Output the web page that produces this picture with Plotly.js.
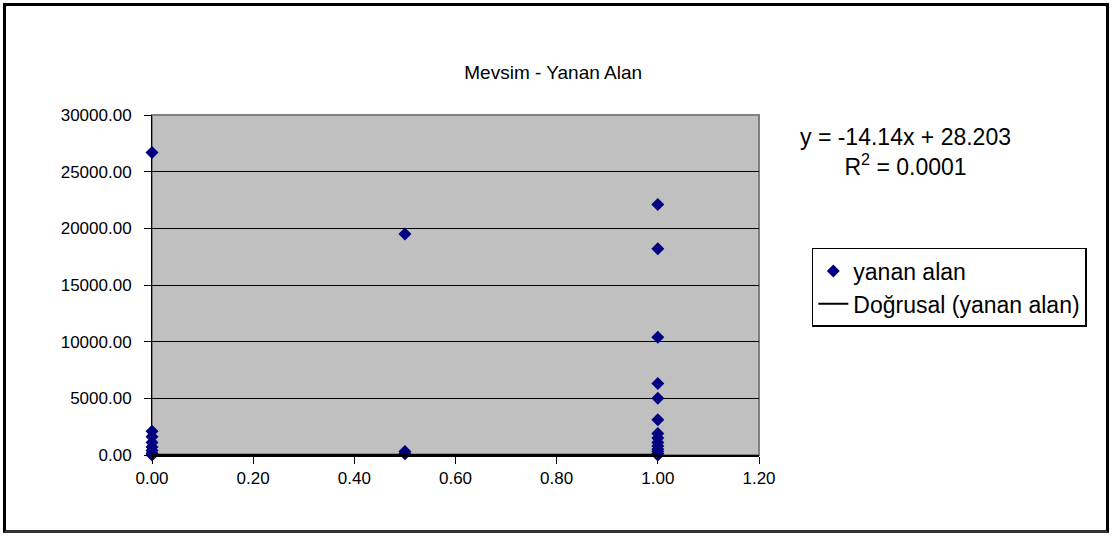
<!DOCTYPE html>
<html>
<head>
<meta charset="utf-8">
<script src="https://cdn.plot.ly/plotly-3.0.1.min.js"></script>
<style>
  html, body { margin: 0; padding: 0; background: #fff; }
  #wrap { position: relative; width: 1113px; height: 536px; }
  #chart { position: absolute; left: 0; top: 0; width: 1113px; height: 536px; }
  #frame { position: absolute; left: 3px; top: 3px; width: 1100px; height: 524px;
           border: 3px solid #000; border-bottom-color: #333; pointer-events: none; }
</style>
</head>
<body>
<div id="wrap"><div id="chart"></div><div id="frame"></div></div>
<script>
// Season (0, 0.5, 1) vs burned area
const seasonX = [0, 0, 0, 0, 0, 0, 0, 0,
                 0.5, 0.5, 0.5,
                 1, 1, 1, 1, 1, 1, 1, 1, 1, 1, 1, 1, 1, 1];
const burnedArea = [26700, 2100, 1600, 1100, 700, 400, 150, 0,
                    19500, 300, 100,
                    22100, 18200, 10400, 6300, 5000, 3100, 1900, 1500, 1100, 800, 500, 300, 100, 0];
// Linear trend line end points (from y = -14.14x + 28.203)
const trendX = [0, 1];
const trendY = [28.203, 14.063];
const seriesName = 'yanan alan';
const trendName = 'Doğrusal (yanan alan)';
const chartTitle = 'Mevsim - Yanan Alan';
const equationText = 'y = -14.14x + 28.203<br>R<sup>2</sup> = 0.0001';

const font = 'Arial, "Liberation Sans", sans-serif';

const traces = [
  {
    x: seasonX, y: burnedArea, name: seriesName, type: 'scatter', mode: 'markers',
    marker: { symbol: 'diamond', color: '#000080', size: 10 },
    cliponaxis: false
  },
  {
    x: trendX, y: trendY, name: trendName, type: 'scatter', mode: 'lines',
    line: { color: '#000', width: 2 },
    cliponaxis: false
  }
];

const layout = {
  width: 1113, height: 536,
  margin: { l: 152, r: 354, t: 115, b: 81 },
  paper_bgcolor: '#fff',
  plot_bgcolor: '#C0C0C0',
  font: { family: font, size: 17, color: '#000' },
  title: { text: chartTitle, x: 0.497, xanchor: 'center', y: 0.865, yanchor: 'middle',
           font: { family: font, size: 19, color: '#000' } },
  xaxis: {
    range: [0, 1.2], dtick: 0.2, tick0: 0, tickformat: '.2f',
    showgrid: false, zeroline: false,
    showline: true, linecolor: '#000', linewidth: 2,
    ticks: 'outside', ticklen: 7, tickwidth: 1, tickcolor: '#000',
    tickfont: { family: font, size: 17, color: '#000' },
    fixedrange: true
  },
  yaxis: {
    range: [0, 30000], dtick: 5000, tick0: 0, tickformat: '.2f',
    showgrid: true, gridcolor: '#000', gridwidth: 1,
    zeroline: false,
    showline: true, linecolor: '#000', linewidth: 1,
    ticks: 'outside', ticklen: 7, tickwidth: 1, tickcolor: '#000',
    tickfont: { family: font, size: 17, color: '#000' },
    ticklabelstandoff: 9,
    fixedrange: true
  },
  showlegend: true,
  legend: {
    x: 1.087, y: 0.609, xanchor: 'left', yanchor: 'top',
    bgcolor: '#fff', bordercolor: '#000', borderwidth: 1.5,
    font: { family: font, size: 23, color: '#000' },
    itemwidth: 30, tracegroupgap: 0
  },
  shapes: [
    { type: 'rect', xref: 'paper', yref: 'paper', x0: 0, x1: 1, y0: 0, y1: 1,
      line: { color: '#808080', width: 2 }, fillcolor: 'rgba(0,0,0,0)', layer: 'below' }
  ],
  annotations: [
    { xref: 'paper', yref: 'paper', x: 1.242, y: 0.89, xanchor: 'center', yanchor: 'middle',
      text: equationText, showarrow: false, align: 'center',
      font: { family: font, size: 23, color: '#000' } }
  ]
};

Plotly.newPlot('chart', traces, layout, { displayModeBar: false, staticPlot: true });
</script>
</body>
</html>
